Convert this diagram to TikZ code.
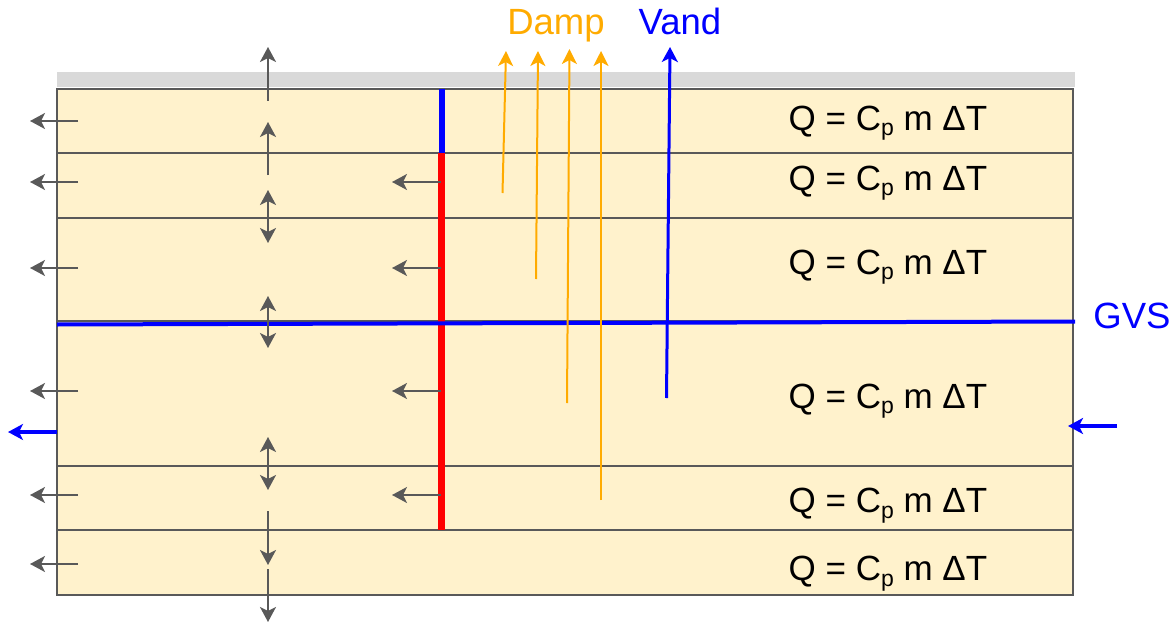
\documentclass[tikz,border=0pt]{standalone}
\usepackage{fontspec}
\setmainfont{Liberation Sans}
\usetikzlibrary{arrows.meta}
\usepackage{xcolor}
\definecolor{soilfill}{HTML}{FFF2CC}
\definecolor{soilstr}{HTML}{595959}
\definecolor{topgray}{HTML}{D9D9D9}
\definecolor{dampcol}{HTML}{FFAB00}
\definecolor{watercol}{HTML}{0000FF}
\definecolor{wallred}{HTML}{FF0000}
\newcommand{\heateq}{Q = C\raisebox{-5.5pt}{\fontsize{23}{23}\selectfont p} m ΔT}
\tikzset{
  layer/.style   ={draw=soilstr, fill=soilfill, line width=2pt},
  sep/.style     ={draw=soilstr, line width=2pt},
  heat/.style    ={-{Stealth[length=15pt, width=16pt, inset=4pt]}, draw=soilstr, line width=2pt},
  heatboth/.style={{Stealth[length=15pt, width=16pt, inset=4pt]}-{Stealth[length=15pt, width=16pt, inset=4pt]},
                   draw=soilstr, line width=2pt},
  damp/.style    ={-{Stealth[length=15pt, width=15pt, inset=4pt]}, draw=dampcol, line width=2pt},
  water/.style   ={-{Stealth[length=15pt, width=16pt, inset=4pt]}, draw=watercol, line width=3.5pt},
  eq/.style      ={anchor=base, inner sep=0pt, font=\fontsize{35}{42}\selectfont},
  tag/.style     ={anchor=base, inner sep=0pt, font=\fontsize{36.5}{44}\selectfont},
}
\begin{document}
\begin{tikzpicture}[x=1pt, y=-1pt]
    \useasboundingbox (0,0) rectangle (1174,623);
    % layers
    \fill[topgray] (57,72) rectangle (1075,87);
    \draw[layer] (57,89) rectangle (1073,594.5);
    \draw[sep] (57,153) -- (1073,153);
    \draw[sep] (57,217.5) -- (1073,217.5);
    \draw[sep] (57,321) -- (1073,321);
    \draw[sep] (57,466) -- (1073,466);
    \draw[sep] (57,530) -- (1073,530);

    % wall and groundwater
    \draw[draw=watercol, line width=6pt] (441.5,89) -- (441.5,153);
    \draw[draw=wallred, line width=7pt] (441.5,153) -- (441.5,530);
    \draw[draw=watercol, line width=4pt] (57,324.5) -- (1075,321.5);

    % heat out to the side
    \draw[heat] (78,121) -- (30,121);
    \draw[heat] (78,182) -- (30,182);
    \draw[heat] (78,268) -- (30,268);
    \draw[heat] (78,391) -- (30,391);
    \draw[heat] (78,495) -- (30,495);
    \draw[heat] (78,564) -- (30,564);
    \draw[heat] (441,182) -- (392,182);
    \draw[heat] (441,268) -- (392,268);
    \draw[heat] (441,391) -- (392,391);
    \draw[heat] (441,495) -- (392,495);

    % heat between layers
    \draw[heat] (268,101) -- (268,47);
    \draw[heat] (268,175) -- (268,122);
    \draw[heatboth] (268,190) -- (268,243);
    \draw[heatboth] (268,296) -- (268,348);
    \draw[heatboth] (268,437) -- (268,490);
    \draw[heat] (268,511) -- (268,565);
    \draw[heat] (268,569) -- (268,622);

    % damp and water
    \draw[damp] (502.5,193) -- (506,51);
    \draw[damp] (536,279) -- (538,51);
    \draw[damp] (567,403) -- (569.5,49);
    \draw[damp] (601,500) -- (601,51);
    \draw[water, line width=3pt] (666.5,398) -- (670,47);
    \draw[water] (57,432) -- (8,432);
    \draw[water] (1117,426) -- (1068,426);

    \node[tag, text=dampcol] (damplbl) at (556,35) {Damp};
    \node[tag, text=watercol] (vandlbl) at (680,35) {Vand};
    \node[tag, text=watercol] (gvslbl) at (1132,328) {GVS};

    \node[eq] (q1) at (888,130.5) {\heateq};
    \node[eq] (q2) at (888,190) {\heateq};
    \node[eq] (q3) at (888,274) {\heateq};
    \node[eq] (q4) at (888,408) {\heateq};
    \node[eq] (q5) at (888,512.5) {\heateq};
    \node[eq] (q6) at (888,580.5) {\heateq};
  \end{tikzpicture}
\end{document}
